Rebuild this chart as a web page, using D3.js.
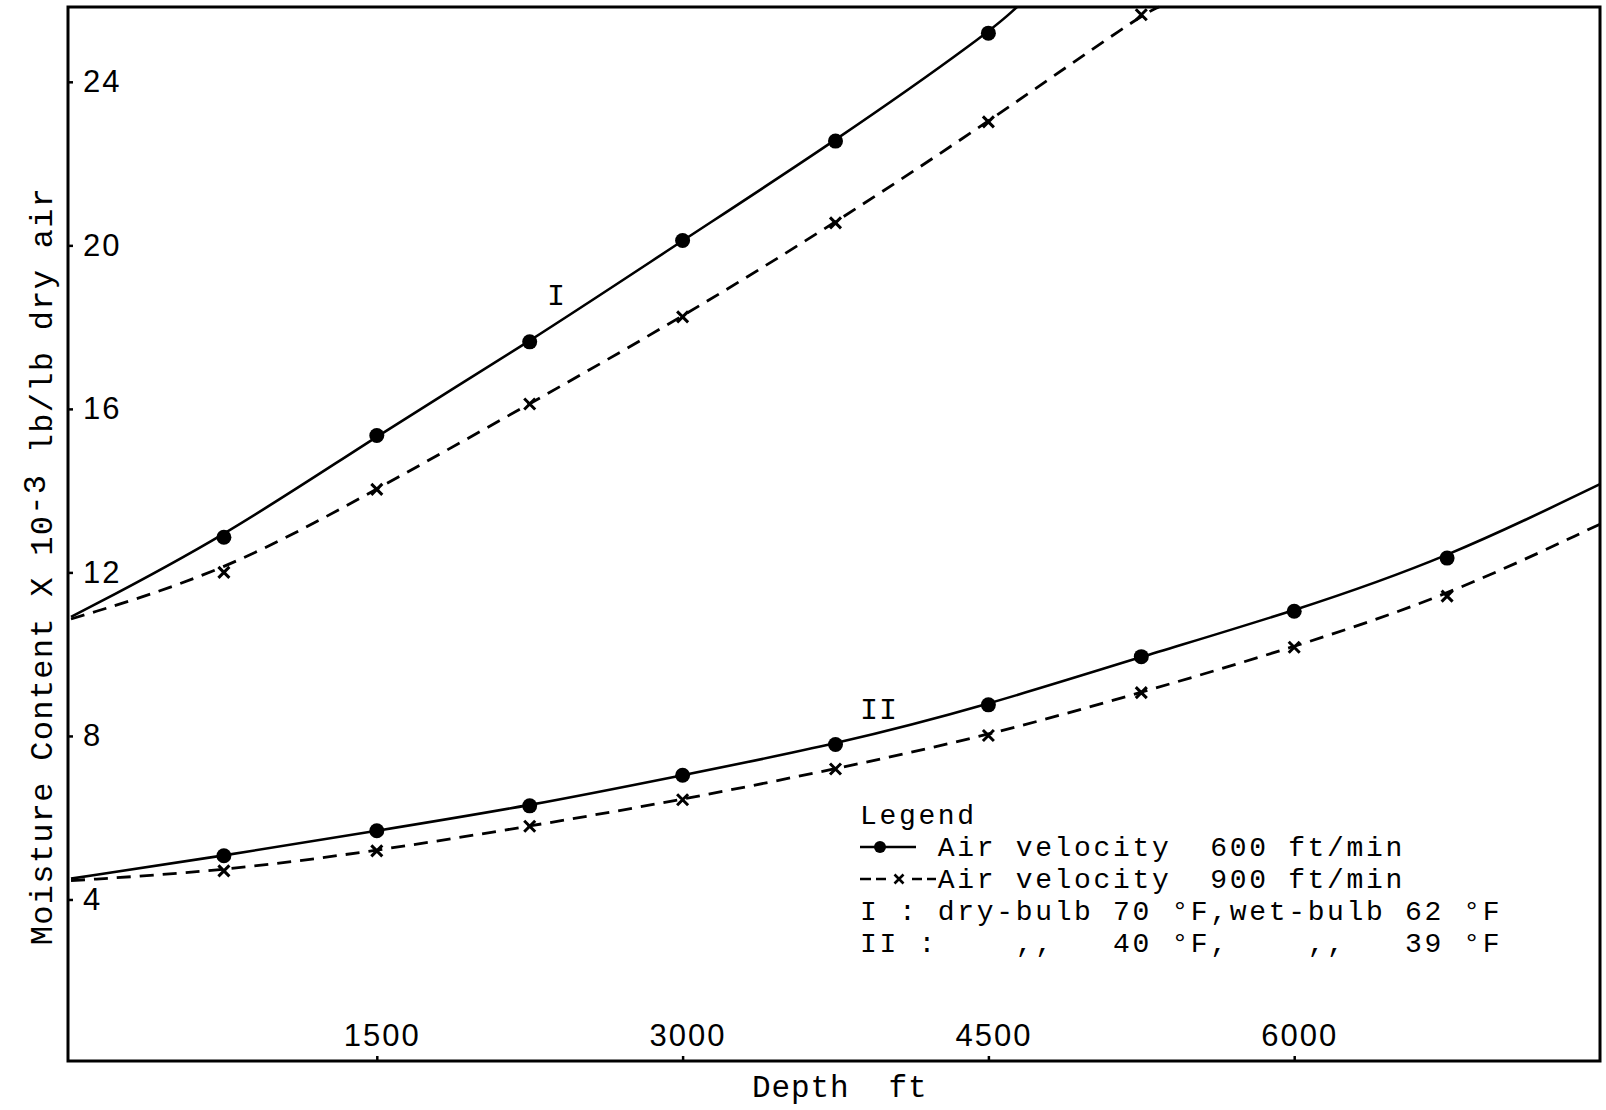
<!DOCTYPE html>
<html><head><meta charset="utf-8">
<script src="https://cdn.jsdelivr.net/npm/d3@7"></script>
<style>body{margin:0;background:#fff;} svg{display:block;background:#fff}</style>
</head><body><svg id="c" width="1606" height="1110"></svg>
<script>
// ---- data ----
const depthMarks = [750, 1500, 2250, 3000, 3750, 4500, 5250, 6000, 6750];
const dotsI   = [12.86, 15.35, 17.64, 20.12, 22.55, 25.19];               // I, 600 ft/min
const crossI  = [12.00, 14.03, 16.12, 18.25, 20.55, 23.02, 25.64];        // I, 900 ft/min
const dotsII  = [5.07, 5.68, 6.29, 7.04, 7.79, 8.76, 9.94, 11.05, 12.35]; // II, 600 ft/min
const crossII = [4.70, 5.19, 5.79, 6.44, 7.19, 8.01, 9.06, 10.17, 11.42]; // II, 900 ft/min
// where each hand-drawn curve meets the frame: [depth, moisture]
const curveStart = {dotsI: [0, 10.91], crossI: [0, 10.86], dotsII: [0, 4.51], crossII: [0, 4.46]};
const curveEnd   = {dotsI: [4640, 25.83], crossI: [5337, 25.83], dotsII: [7500, 14.16], crossII: [7500, 13.18]};
const xTicks = [1500, 3000, 4500, 6000];
const yTicks = [4, 8, 12, 16, 20, 24];
const legendTitle = "Legend";
const legendRows = ["Air velocity  600 ft/min", "Air velocity  900 ft/min"];
const noteRows = ["I : dry-bulb 70 \u00B0F,wet-bulb 62 \u00B0F", "II :    ,,   40 \u00B0F,    ,,   39 \u00B0F"];
const yTitle = ["Moisture Content X 10", "-3", " lb/lb dry air"];
const xTitle = "Depth  ft";

// ---- layout ----
const svg = d3.select("#c");
const L = 68, T = 7, R = 1600, B = 1061;
const x = d3.scaleLinear().domain([0, 7500]).range([71, 1600]);
const y = d3.scaleLinear().domain([0, 25.83]).range([1063, 7]);
const mono = "'Liberation Mono', 'DejaVu Sans Mono', monospace";
const sans = "'Liberation Sans', Arial, sans-serif";
const ink = "#000";

// frame
svg.append("rect").attr("x", L).attr("y", T).attr("width", R - L).attr("height", B - T)
  .attr("fill", "none").attr("stroke", ink).attr("stroke-width", 3);

// axes
const gy = svg.append("g").attr("transform", `translate(${L},0)`)
  .call(d3.axisRight(y).tickValues(yTicks).tickSize(5).tickPadding(10).tickFormat(d3.format("d")));
const gx = svg.append("g").attr("transform", `translate(0,${B})`)
  .call(d3.axisTop(x).tickValues(xTicks).tickSize(5).tickPadding(10).tickFormat(d3.format("d")));
[gx, gy].forEach(g => {
  g.select(".domain").remove();
  g.selectAll(".tick line").attr("stroke", ink).attr("stroke-width", 2.5);
  g.selectAll(".tick text").attr("fill", ink).attr("font-family", sans)
    .attr("font-size", 31).attr("letter-spacing", 2);
});
gx.selectAll(".tick text").attr("dx", 5);

// curves
const line = d3.line().x(d => x(d[0])).y(d => y(d[1])).curve(d3.curveBasis);
const series = [
  {key: "dotsI", vals: dotsI, type: "dot"},
  {key: "crossI", vals: crossI, type: "cross"},
  {key: "dotsII", vals: dotsII, type: "dot"},
  {key: "crossII", vals: crossII, type: "cross"}
];
series.forEach(s => {
  const pts = [curveStart[s.key], ...s.vals.map((v, i) => [depthMarks[i], v]), curveEnd[s.key]];
  svg.append("path").attr("d", line(pts)).attr("fill", "none").attr("stroke", ink)
    .attr("stroke-width", s.type === "dot" ? 2.6 : 2.8)
    .attr("stroke-dasharray", s.type === "dot" ? null : "14,9");
  const g = svg.append("g");
  s.vals.forEach((v, i) => {
    const cx = x(depthMarks[i]), cy = y(v);
    if (s.type === "dot") {
      g.append("circle").attr("cx", cx).attr("cy", cy).attr("r", 7.5).attr("fill", ink);
    } else {
      const h = 5.5;
      g.append("path").attr("d", `M${cx - h},${cy - h}L${cx + h},${cy + h}M${cx - h},${cy + h}L${cx + h},${cy - h}`)
        .attr("stroke", ink).attr("stroke-width", 3).attr("fill", "none");
    }
  });
});

// curve labels
svg.append("text").attr("x", 556).attr("y", 305).attr("text-anchor", "middle")
  .attr("font-family", mono).attr("font-size", 30).attr("fill", ink).text("I");
svg.append("text").attr("x", 879).attr("y", 719).attr("text-anchor", "middle")
  .attr("font-family", mono).attr("font-size", 30).attr("fill", ink).attr("letter-spacing", 1).text("II");

// legend
const lx = 860, rowY = [824, 856, 888, 920, 952], cw = 19.46, fs = 28;
const txt = (xx, yy, s) => svg.append("text").attr("x", xx).attr("y", yy)
  .attr("font-family", mono).attr("font-size", fs).attr("letter-spacing", cw - 0.6 * fs)
  .attr("fill", ink).attr("xml:space", "preserve").style("white-space", "pre").text(s);
txt(lx, rowY[0], legendTitle);
txt(lx + 4 * cw, rowY[1], legendRows[0]);
txt(lx + 4 * cw, rowY[2], legendRows[1]);
txt(lx, rowY[3], noteRows[0]);
txt(lx, rowY[4], noteRows[1]);
// legend symbols
const sy1 = rowY[1] - 9, sy2 = rowY[2] - 9;
svg.append("line").attr("x1", lx).attr("x2", lx + 56).attr("y1", sy1).attr("y2", sy1)
  .attr("stroke", ink).attr("stroke-width", 2.6);
svg.append("circle").attr("cx", lx + 20).attr("cy", sy1).attr("r", 6).attr("fill", ink);
svg.append("line").attr("x1", lx).attr("x2", lx + 76).attr("y1", sy2).attr("y2", sy2)
  .attr("stroke", ink).attr("stroke-width", 2.6).attr("stroke-dasharray", "11,5,10,26,10,5,9");
{
  const cx = lx + 39, cy = sy2, h = 4.5;
  svg.append("path").attr("d", `M${cx - h},${cy - h}L${cx + h},${cy + h}M${cx - h},${cy + h}L${cx + h},${cy - h}`)
    .attr("stroke", ink).attr("stroke-width", 2.6);
}

// axis titles
const yt = svg.append("text").attr("transform", "translate(52,566) rotate(-90)")
  .attr("text-anchor", "middle").attr("font-family", mono).attr("font-size", 32)
  .attr("letter-spacing", 1.3).attr("fill", ink).attr("xml:space", "preserve").style("white-space", "pre");
yt.append("tspan").text(yTitle[0]);
yt.append("tspan").attr("dy", -7).text(yTitle[1]);
yt.append("tspan").attr("dy", 7).text(yTitle[2]);
svg.append("text").attr("x", 752).attr("y", 1097).attr("font-family", mono).attr("font-size", 31)
  .attr("letter-spacing", 0.9).attr("fill", ink).attr("xml:space", "preserve").style("white-space", "pre").text(xTitle);
</script></body></html>
